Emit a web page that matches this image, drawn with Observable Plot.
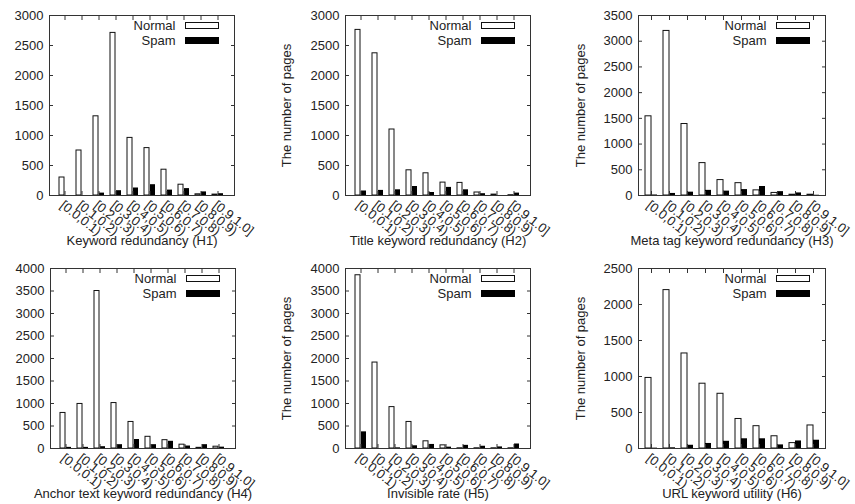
<!DOCTYPE html>
<html><head><meta charset="utf-8">
<script src="https://cdn.jsdelivr.net/npm/d3@7"></script>
<script src="https://cdn.jsdelivr.net/npm/@observablehq/plot@0.6"></script>
<style>
body{margin:0;background:#fff;}
#c{position:relative;width:855px;height:504px;overflow:hidden;}
#c svg{position:absolute;overflow:visible;}
</style></head><body><div id="c"></div>
<script>
// ---- data ----
const bins = ["[0.0,0.1)","[0.1,0.2)","[0.2,0.3)","[0.3,0.4)","[0.4,0.5)","[0.5,0.6)","[0.6,0.7)","[0.7,0.8)","[0.8,0.9)","[0.9,1.0]"];
const series = ["Normal","Spam"];
const yLabel = "The number of pages";
const titles = ["Keyword redundancy (H1)","Title keyword redundancy (H2)","Meta tag keyword redundancy (H3)","Anchor text keyword redundancy (H4)","Invisible rate (H5)","URL keyword utility (H6)"];
const yMax = [3000,3000,3500,4000,4000,2500];
const yStep = 500;

const h1Normal = [300,750,1320,2710,960,790,430,180,20,15];
const h1Spam   = [0,0,40,80,125,180,90,115,60,30];
const h2Normal = [2760,2370,1100,420,370,215,210,50,15,5];
const h2Spam   = [75,85,95,150,50,135,95,30,0,40];
const h3Normal = [1540,3200,1390,630,300,240,100,50,15,15];
const h3Spam   = [10,40,65,100,85,115,175,75,50,5];
const h4Normal = [790,990,3500,1010,590,260,185,85,15,40];
const h4Spam   = [25,25,40,85,200,85,160,55,85,30];
const h5Normal = [3850,1910,920,590,160,70,5,5,5,5];
const h5Spam   = [370,0,15,60,90,30,70,50,35,100];
const h6Normal = [980,2200,1320,900,760,410,310,170,75,320];
const h6Spam   = [5,10,45,70,100,135,135,50,105,115];

const panelsNormal = [h1Normal,h2Normal,h3Normal,h4Normal,h5Normal,h6Normal];
const panelsSpam = [h1Spam,h2Spam,h3Spam,h4Spam,h5Spam,h6Spam];

// ---- layout ----
const layouts = [
  {left:0,   top:0,   width:275, height:250, mL:49, mR:41, mT:15, mB:55, yLab:null},
  {left:275, top:0,   width:290, height:250, mL:70, mR:35, mT:15, mB:55, yLab:11},
  {left:565, top:0,   width:290, height:250, mL:73, mR:30, mT:15, mB:55, yLab:15},
  {left:0,   top:250, width:275, height:254, mL:50, mR:40, mT:18, mB:56, yLab:null},
  {left:275, top:250, width:290, height:254, mL:70, mR:35, mT:18, mB:56, yLab:11},
  {left:565, top:250, width:290, height:254, mL:73, mR:30, mT:18, mB:56, yLab:15}
];

const FONT = "'Liberation Sans', Arial, Helvetica, sans-serif";
const INK = "#222";
const container = document.getElementById("c");
const fmt = d3.format("d");

layouts.forEach((L, i) => {
  const normal = bins.map((b, j) => ({bin: b, series: series[0], value: panelsNormal[i][j]}));
  const spam = bins.map((b, j) => ({bin: b, series: series[1], value: panelsSpam[i][j]}));
  const fw = L.width - L.mL - L.mR, fh = L.height - L.mT - L.mB;
  const yTicks = d3.range(0, yMax[i] + 1, yStep);
  const marks = [
    Plot.barY(normal, {x: "bin", y: "value", fill: "white", stroke: "#111", strokeWidth: 1, insetRight: 6}),
    Plot.barY(spam, {x: "bin", y: "value", fill: "#000", insetLeft: 6}),
    Plot.frame({stroke: "#333"}),
    Plot.axisY(yTicks, {anchor: "left", tickSize: 0, tickPadding: 6, fontSize: 13, label: null, tickFormat: fmt}),
    Plot.axisY(yTicks, {anchor: "left", tickSize: -4, fill: "none", label: null, stroke: "#333"}),
    Plot.axisY(yTicks, {anchor: "right", tickSize: -4, fill: "none", label: null, stroke: "#333"}),
    Plot.axisX({anchor: "bottom", tickSize: -4, fill: "none", label: null, stroke: "#333"}),
    Plot.axisX({anchor: "top", tickSize: -4, fill: "none", label: null, stroke: "#333"}),
    Plot.axisX({anchor: "bottom", tickSize: 0, tickPadding: 4, tickRotate: 38, textAnchor: "start", lineAnchor: "top", dx: 0, fontSize: 13, label: null}),
    Plot.text([titles[i]], {frameAnchor: "bottom", dy: 45, fontSize: 13, lineAnchor: "middle", textAnchor: "middle"}),
    // legend
    Plot.text([series[0]], {frameAnchor: "top-right", dx: -59, dy: 10, textAnchor: "end", lineAnchor: "middle", fontSize: 13}),
    Plot.text([series[1]], {frameAnchor: "top-right", dx: -59, dy: 25, textAnchor: "end", lineAnchor: "middle", fontSize: 13}),
    Plot.frame({fill: "white", stroke: "#111", insetLeft: fw - 49, insetRight: 16, insetTop: 7, insetBottom: fh - 13}),
    Plot.frame({fill: "#000", stroke: "#000", insetLeft: fw - 49, insetRight: 16, insetTop: 22, insetBottom: fh - 28})
  ];
  if (L.yLab !== null) {
    marks.push(Plot.text([yLabel], {frameAnchor: "left", rotate: -90, dx: L.yLab - L.mL, fontSize: 13, textAnchor: "middle", lineAnchor: "middle"}));
  }
  const svg = Plot.plot({
    width: L.width, height: L.height,
    marginLeft: L.mL, marginRight: L.mR, marginTop: L.mT, marginBottom: L.mB,
    x: {type: "band", domain: bins, padding: 1/3},
    y: {domain: [0, yMax[i]], nice: false},
    style: {fontFamily: FONT, fontSize: "13px", color: INK, background: "transparent", overflow: "visible"},
    marks
  });
  svg.style.left = L.left + "px";
  svg.style.top = L.top + "px";
  container.appendChild(svg);
});
</script>
</body></html>
